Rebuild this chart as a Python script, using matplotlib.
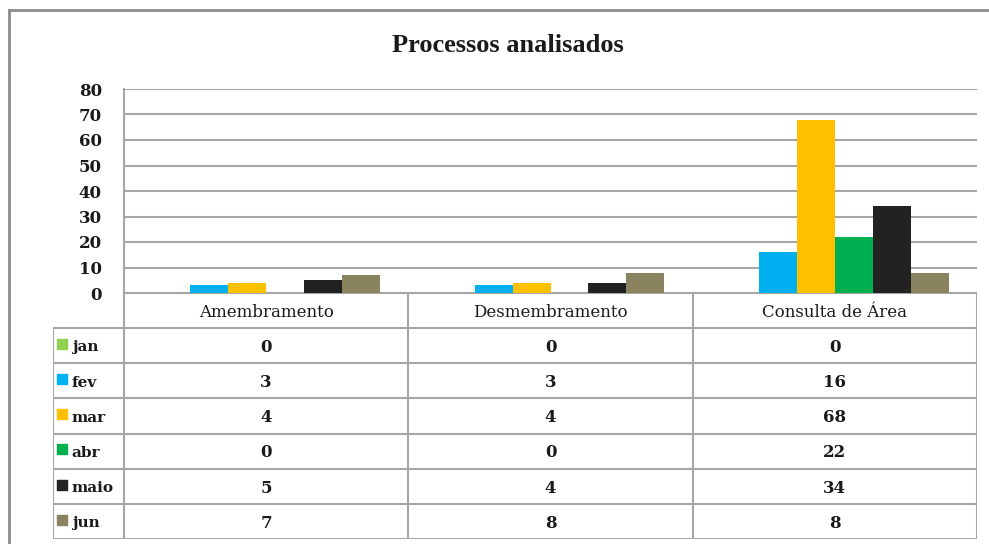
import matplotlib.pyplot as plt
from matplotlib.lines import Line2D
import numpy as np

plt.rcParams['font.family'] = ['DejaVu Serif']

categories = ['Amembramento', 'Desmembramento', 'Consulta de Área']
months = ['jan', 'fev', 'mar', 'abr', 'maio', 'jun']
values = {
    'jan': [0, 0, 0],
    'fev': [3, 3, 16],
    'mar': [4, 4, 68],
    'abr': [0, 0, 22],
    'maio': [5, 4, 34],
    'jun': [7, 8, 8],
}
colors = ['#92D050', '#00B0F0', '#FFC000', '#00B050', '#222222', '#8A8360']
yticks = [0, 10, 20, 30, 40, 50, 60, 70, 80]

W, H = 989, 544
GRID = '#A6A6A6'
TXT = '#1a1a1a'

fig = plt.figure(figsize=(W / 100, H / 100), dpi=100)
fig.patch.set_facecolor('white')

# outer chart frame (only left and top edges visible)
fig.add_artist(Line2D([9 / W, 9 / W], [0, 1 - 10 / H], color='#8C8C8C', lw=2))
fig.add_artist(Line2D([9 / W, 1], [1 - 10 / H, 1 - 10 / H], color='#8C8C8C', lw=2))

fig.text(508 / W, 1 - 46 / H, 'Processos analisados', ha='center', va='center',
         fontsize=19, fontweight='bold', color=TXT, family='Liberation Serif')

# bar area
left, right, top, base = 124, 977, 89, 293
ax = fig.add_axes([left / W, 1 - base / H, (right - left) / W, (base - top) / H])
n = len(months)
bw = 0.8 / n
x = np.arange(len(categories)) + 0.5
for i, m in enumerate(months):
    ax.bar(x - 0.4 + bw * (i + 0.5), values[m], width=bw, color=colors[i], zorder=3)
ax.set_xlim(0, 3)
ax.set_ylim(0, 80)
ax.set_yticks(yticks)
ax.set_yticklabels([str(t) for t in yticks], fontsize=12, fontweight='bold', color=TXT)
ax.set_xticks([])
ax.yaxis.grid(True, color=GRID, lw=1.5, zorder=0)
ax.tick_params(axis='y', length=0, pad=16)
for s in ['top', 'right', 'bottom']:
    ax.spines[s].set_visible(False)
ax.spines['left'].set_color(GRID)
ax.spines['left'].set_linewidth(1.5)

# data table below
tl, tr, tt, tb = 53, 977, 293, 539
tab = fig.add_axes([tl / W, 1 - tb / H, (tr - tl) / W, (tb - tt) / H])
lx = -(left - tl) / (right - left) * 3
tab.set_xlim(lx, 3)
tab.set_ylim(0, 7)
tab.axis('off')
lk = dict(color=GRID, lw=1.5)
for c in range(4):
    tab.plot([c, c], [0, 7], **lk)
tab.plot([lx, lx], [0, 6], **lk)
for r in range(7):
    tab.plot([lx, 3], [r, r], **lk)
tab.plot([0, 3], [7, 7], **lk)

dy = -0.05
for j, cat in enumerate(categories):
    tab.text(j + 0.5, 6.5 + dy, cat, ha='center', va='center', fontsize=12, color=TXT)
for i, m in enumerate(months):
    yc = 5.5 - i
    tab.scatter([lx + 0.032], [yc + 0.05], marker='s', s=42, color=colors[i], clip_on=False)
    tab.text(lx + 0.066, yc + dy, m, ha='left', va='center', fontsize=11,
             fontweight='bold', color=TXT)
    for j in range(len(categories)):
        tab.text(j + 0.5, yc + dy, str(values[m][j]), ha='center', va='center',
                 fontsize=12, fontweight='bold', color=TXT)

fig.savefig('out.png', dpi=100)
